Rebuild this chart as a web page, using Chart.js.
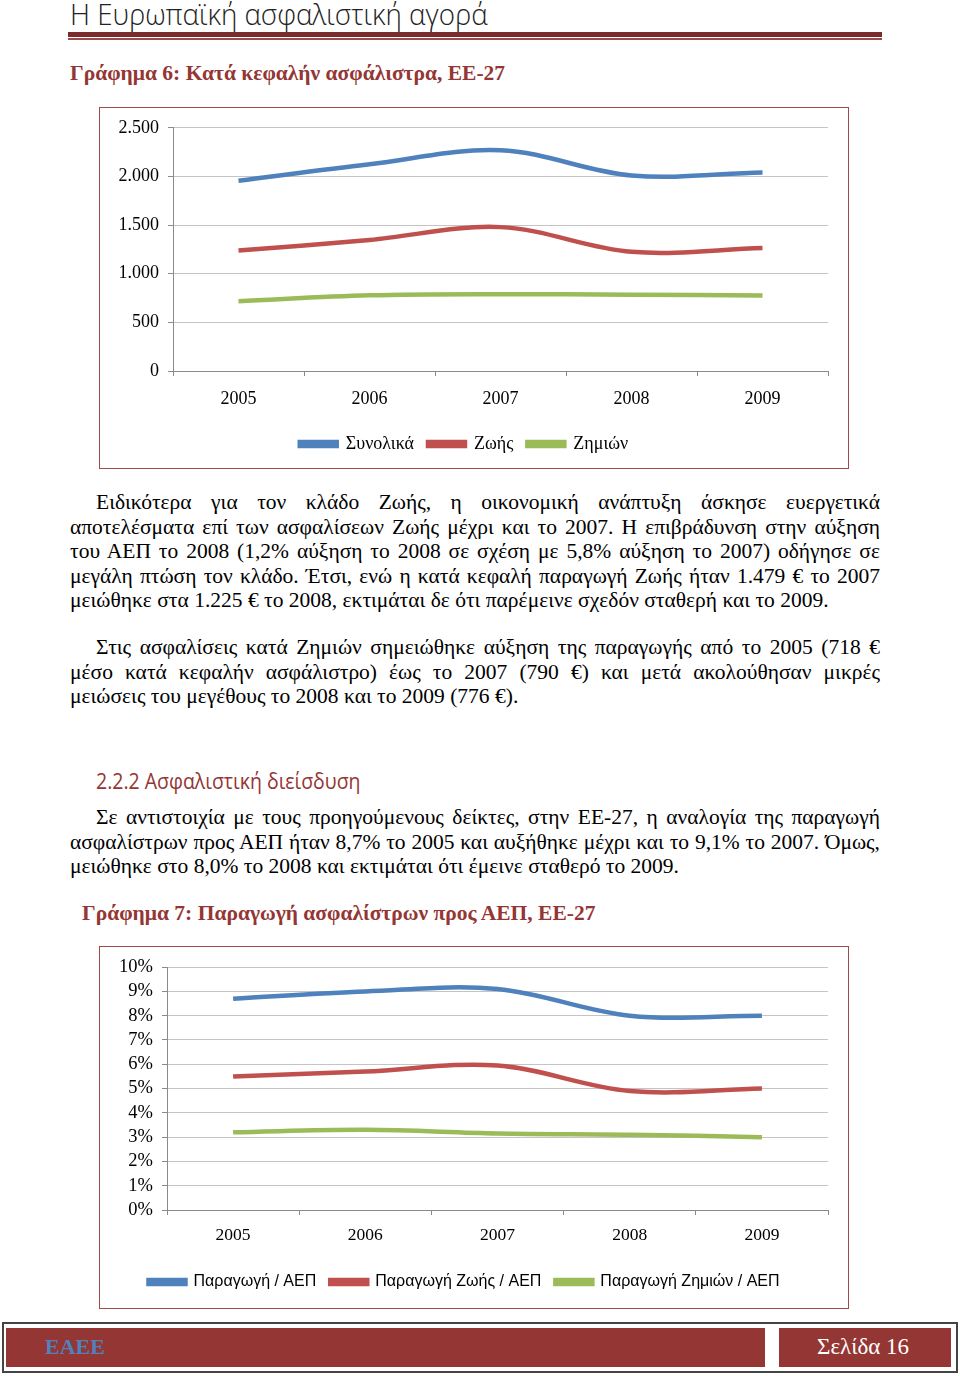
<!DOCTYPE html>
<html>
<head>
<meta charset="utf-8">
<script src="https://cdn.jsdelivr.net/npm/chart.js@4"></script>
<style>
  body { margin: 0; width: 960px; height: 1376px; background: #fff; position: relative; overflow: hidden; }
  .abs { position: absolute; }
  .hdr { left: 70px; top: -7px; font-family: "Open Sans", sans-serif; font-weight: 300; font-size: 30px; color: #222; white-space: nowrap; transform: scaleX(0.925); transform-origin: left top; }
  .rule1 { left: 68px; top: 32px; width: 814px; height: 5px; background: #7a2b2b; }
  .rule2 { left: 68px; top: 38px; width: 814px; height: 2px; background: #9a4a4a; }
  .ttl { font-family: "Liberation Serif", serif; font-weight: bold; font-size: 21.5px; color: #943634; white-space: nowrap; }
  .box { border: 1.5px solid #a04a4a; box-sizing: border-box; }
  .para { left: 70px; width: 810px; font-family: "Liberation Serif", serif; font-size: 21.5px; line-height: 24.5px; color: #000; }
  .para span { display: block; text-align: justify; text-align-last: justify; white-space: nowrap; }
  .para span.first { padding-left: 26px; }
  .para span.last { text-align-last: left; }
  .h3 { left: 96px; top: 765px; font-family: "Open Sans", sans-serif; font-size: 22px; color: #943634; white-space: nowrap; transform: scaleX(0.886); transform-origin: left top; }
  .foot { left: 2px; top: 1322px; width: 956px; height: 51px; border: 2px solid #444; box-sizing: border-box; }
  .fl { left: 6px; top: 1328px; width: 759px; height: 39px; background: #943634; }
  .fr { left: 779px; top: 1328px; width: 172px; height: 39px; background: #943634; }
  .fl span { position: absolute; left: 39px; top: 6px; font-family: "Liberation Serif", serif; font-weight: bold; font-size: 22px; color: #4f81bd; }
  .fr span { position: absolute; left: 38px; top: 6px; font-family: "Liberation Serif", serif; font-size: 23px; color: #fff; }
</style>
</head>
<body>
<div class="abs hdr">Η Ευρωπαϊκή ασφαλιστική αγορά</div>
<div class="abs rule1"></div>
<div class="abs rule2"></div>

<div class="abs ttl" style="left:70px; top:61px;">Γράφημα 6: Κατά κεφαλήν ασφάλιστρα, ΕΕ-27</div>
<div class="abs box" style="left:99px; top:107px; width:750px; height:362px;"></div>
<canvas id="c1" class="abs" width="746" height="359" style="left:100px; top:108px;"></canvas>

<div class="abs para" style="top:490px;">
  <span class="first">Ειδικότερα για τον κλάδο Ζωής, η οικονομική ανάπτυξη άσκησε ευεργετικά</span>
  <span>αποτελέσματα επί των ασφαλίσεων Ζωής μέχρι και το 2007. Η επιβράδυνση στην αύξηση</span>
  <span>του ΑΕΠ το 2008 (1,2% αύξηση το 2008 σε σχέση με 5,8% αύξηση το 2007) οδήγησε σε</span>
  <span>μεγάλη πτώση τον κλάδο. Έτσι, ενώ η κατά κεφαλή παραγωγή Ζωής ήταν 1.479 € το 2007</span>
  <span class="last">μειώθηκε στα 1.225 € το 2008, εκτιμάται δε ότι παρέμεινε σχεδόν σταθερή και το 2009.</span>
</div>
<div class="abs para" style="top:635px;">
  <span class="first">Στις ασφαλίσεις κατά Ζημιών σημειώθηκε αύξηση της παραγωγής από το 2005 (718 €</span>
  <span>μέσο κατά κεφαλήν ασφάλιστρο) έως το 2007 (790 €) και μετά ακολούθησαν μικρές</span>
  <span class="last">μειώσεις του μεγέθους το 2008 και το 2009 (776 €).</span>
</div>

<div class="abs h3">2.2.2 Ασφαλιστική διείσδυση</div>
<div class="abs para" style="top:805px;">
  <span class="first">Σε αντιστοιχία με τους προηγούμενους δείκτες, στην ΕΕ-27, η αναλογία της παραγωγή</span>
  <span>ασφαλίστρων προς ΑΕΠ ήταν 8,7% το 2005 και αυξήθηκε μέχρι και το 9,1% το 2007. Όμως,</span>
  <span class="last">μειώθηκε στο 8,0% το 2008 και εκτιμάται ότι έμεινε σταθερό το 2009.</span>
</div>

<div class="abs ttl" style="left:82px; top:901px;">Γράφημα 7: Παραγωγή ασφαλίστρων προς ΑΕΠ, ΕΕ-27</div>
<div class="abs box" style="left:99px; top:946px; width:750px; height:363px;"></div>
<canvas id="c2" class="abs" width="746" height="360" style="left:100px; top:947px;"></canvas>

<div class="abs foot"></div>
<div class="abs fl"><span>ΕΑΕΕ</span></div>
<div class="abs fr"><span>Σελίδα 16</span></div>

<script>
// data
const years = ["2005", "2006", "2007", "2008", "2009"];

// Chart 6: per capita premiums (€)
const totalPerCapita = [1956, 2125, 2269, 2010, 2041];
const lifePerCapita = [1238, 1347, 1479, 1225, 1265];
const nonLifePerCapita = [718, 778, 790, 785, 776];

// Chart 7: premiums / GDP (%)
const totalGdp = [8.7, 9.0, 9.1, 8.0, 8.0];
const lifeGdp = [5.5, 5.7, 5.95, 4.9, 5.0];
const nonLifeGdp = [3.2, 3.3, 3.15, 3.1, 3.0];

const BLUE = "#4f81bd";
const RED = "#c0504d";
const GREEN = "#9bbb59";
const GRID = "#c4c4c4";
const AXIS = "#8a8a8a";

// squeeze justified lines that are wider than the column
document.querySelectorAll(".para span").forEach(el => {
  const probe = document.createElement("span");
  probe.style.cssText = "position:absolute;visibility:hidden;white-space:nowrap;display:inline;";
  probe.textContent = el.textContent;
  el.parentNode.appendChild(probe);
  const avail = el.clientWidth - parseFloat(getComputedStyle(el).paddingLeft);
  const w = probe.getBoundingClientRect().width;
  probe.remove();
  if (w > avail) {
    el.style.display = "inline-block";
    el.style.width = "auto";
    el.style.transform = "scaleX(" + (avail / w) + ")";
    el.style.transformOrigin = "left top";
    el.style.textAlignLast = "left";
    el.insertAdjacentHTML("afterend", "<br>");
  }
});

function dotThousands(v) {
  return String(v).replace(/\B(?=(\d{3})+(?!\d))/g, ".");
}

function lineSet(label, data, color) {
  return {
    label: label,
    data: data,
    borderColor: color,
    backgroundColor: color,
    borderWidth: 4.5,
    pointRadius: 0,
    tension: 0.35,
    fill: false,
  };
}

function buildOptions(cfg) {
  return {
    responsive: false,
    animation: false,
    layout: { padding: { left: 0, top: cfg.top, right: cfg.right, bottom: cfg.bottom } },
    plugins: {
      title: { display: false },
      tooltip: { enabled: false },
      legend: {
        position: "bottom",
        labels: {
          boxWidth: 37,
          boxHeight: 4,
          padding: cfg.legendPad,
          color: "#000",
          font: cfg.legendFont,
        },
      },
    },
    scales: {
      x: {
        offset: true,
        grid: { offset: true, drawOnChartArea: false, drawTicks: true, tickLength: 5, tickColor: AXIS },
        border: { color: AXIS, width: 1 },
        ticks: { color: "#000", padding: cfg.xPad, font: { family: "Liberation Serif", size: cfg.xFont } },
        afterFit: s => { s.height = cfg.xHeight; },
      },
      y: {
        min: 0,
        max: cfg.max,
        grid: { color: GRID, tickLength: 5, tickColor: AXIS },
        border: { color: AXIS, width: 1 },
        ticks: {
          stepSize: cfg.step,
          autoSkip: false,
          color: "#000",
          padding: 9,
          font: { family: "Liberation Serif", size: cfg.yFont },
          callback: cfg.fmt,
        },
        afterFit: s => { s.width = cfg.yWidth; },
      },
    },
  };
}

new Chart(document.getElementById("c1"), {
  type: "line",
  data: {
    labels: years,
    datasets: [
      lineSet("Συνολικά", totalPerCapita, BLUE),
      lineSet("Ζωής", lifePerCapita, RED),
      lineSet("Ζημιών", nonLifePerCapita, GREEN),
    ],
  },
  options: buildOptions({
    top: 18, right: 18, bottom: 4, yWidth: 73, xHeight: 50, xPad: 12,
    xFont: 18, yFont: 18,
    max: 2500, step: 500, fmt: v => dotThousands(v),
    legendPad: 14, legendFont: { family: "Liberation Serif", size: 18 },
  }),
});

new Chart(document.getElementById("c2"), {
  type: "line",
  data: {
    labels: years,
    datasets: [
      lineSet("Παραγωγή / ΑΕΠ", totalGdp, BLUE),
      lineSet("Παραγωγή Ζωής / ΑΕΠ", lifeGdp, RED),
      lineSet("Παραγωγή Ζημιών / ΑΕΠ", nonLifeGdp, GREEN),
    ],
  },
  options: buildOptions({
    top: 19, right: 18, bottom: 7, yWidth: 67, xHeight: 50, xPad: 10,
    xFont: 17.5, yFont: 18.5,
    max: 10, step: 1, fmt: v => v + "%",
    legendPad: 14, legendFont: { family: "Liberation Sans", size: 16 },
  }),
});
</script>
</body>
</html>
